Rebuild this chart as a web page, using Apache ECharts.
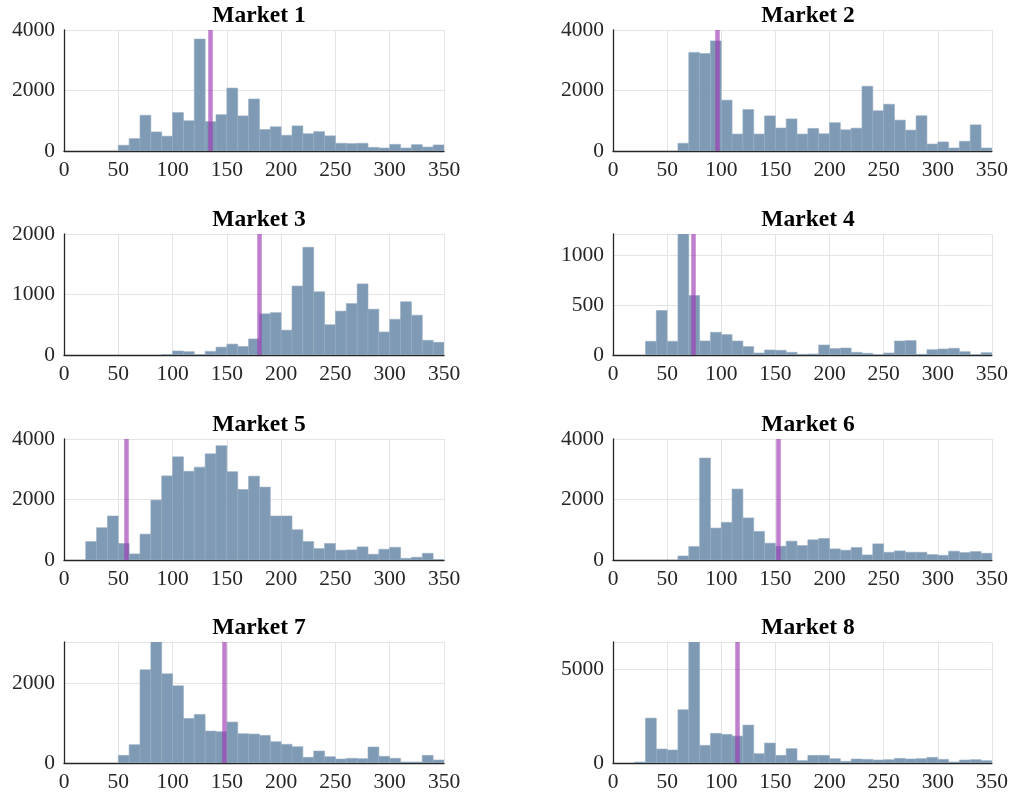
<!DOCTYPE html>
<html>
<head>
<meta charset="utf-8">
<script src="https://cdn.jsdelivr.net/npm/echarts@6/dist/echarts.min.js"></script>
<style>
html,body{margin:0;padding:0;background:#fff;}
#chart{width:1011px;height:803px;}
</style>
</head>
<body>
<div id="chart"></div>
<script>
// Histogram bin edges (width 10, 0..350)
const binStarts = [0,10,20,30,40,50,60,70,80,90,100,110,120,130,140,150,160,170,180,190,200,210,220,230,240,250,260,270,280,290,300,310,320,330,340];
const binWidth = 10;

const titles = ["Market 1","Market 2","Market 3","Market 4","Market 5","Market 6","Market 7","Market 8"];

const market1 = [0,0,0,0,0,190,410,1180,630,490,1270,1000,3700,970,1200,2080,1160,1720,710,800,520,830,570,640,500,255,245,255,120,100,220,100,210,130,200];
const market2 = [0,0,0,0,0,0,255,3260,3220,3640,1680,560,1370,560,1160,760,1060,560,745,570,935,700,755,2140,1330,1545,1020,690,1165,230,300,100,320,865,100];
const market3 = [0,0,0,0,0,0,0,0,0,10,66,55,5,60,130,180,140,265,680,700,410,1140,1780,1045,500,725,850,1175,757,380,590,880,657,243,210];
const market4 = [0,0,0,137,445,137,1250,595,140,227,204,140,84,20,50,47,27,7,10,100,64,70,27,17,2,20,140,144,7,53,60,67,33,2,23];
const market5 = [0,0,610,1067,1455,545,200,855,1980,2780,3410,2930,3070,3510,3780,2920,2330,2770,2410,1455,1455,1000,610,378,545,322,333,433,190,355,420,55,90,222,10];
const market6 = [0,0,0,0,0,0,133,445,3370,1055,1245,2345,1390,945,555,455,622,478,667,711,367,322,411,167,533,255,300,255,255,178,155,290,245,278,222];
const market7 = [0,0,0,0,0,192,458,2333,3100,2233,1933,1117,1217,800,783,1025,733,725,692,533,467,408,142,300,158,100,117,108,400,167,117,25,25,192,75];
const market8 = [0,0,53,2385,742,690,2830,6500,936,1572,1520,1430,2015,495,1060,406,760,124,406,406,230,88,212,194,159,177,247,212,230,300,194,53,159,177,124];

const allCounts = [market1,market2,market3,market4,market5,market6,market7,market8];

// Vertical reference (purple) line positions
const refLines = [135, 96, 180, 74, 57, 153, 148, 115];

// Y axis ranges and tick intervals
const yMax = [4000, 4000, 2000, 1210, 4000, 4000, 3030, 6430];
const yInterval = [2000, 2000, 1000, 500, 2000, 2000, 2000, 5000];

// X axis ticks
const xMin = 0, xMax = 350, xInterval = 50;

// Layout
const colLeft = [64, 613];
const plotW = 380;
const rowTop = [30, 234, 439, 642];
const plotH = 121;

const BAR = '#7f9ab4';
const LINE = 'rgba(160,60,180,0.66)';
const FONT = '"Liberation Serif","Times New Roman",serif';

const grids = [], xAxes = [], yAxes = [], series = [], titleList = [];
for (let i = 0; i < 8; i++) {
  const col = i % 2, row = Math.floor(i / 2);
  const left = colLeft[col], top = rowTop[row];
  grids.push({left: left, top: top, width: plotW, height: plotH, containLabel: false});
  titleList.push({
    text: titles[i], left: left + plotW / 2, top: top - 31, textAlign: 'center',
    textStyle: {fontFamily: FONT, fontWeight: 'bold', fontSize: 23.5, color: '#000'}
  });
  xAxes.push({
    type: 'value', gridIndex: i, min: xMin, max: xMax, interval: xInterval,
    axisLine: {show: true, onZero: false, lineStyle: {color: '#262626', width: 1.3}},
    axisTick: {show: false},
    axisLabel: {fontFamily: FONT, fontSize: 21.5, color: '#262626', margin: 8, formatter: v => String(v)},
    splitLine: {show: true, lineStyle: {color: '#e4e4e4', width: 1}}
  });
  const exactMax = yMax[i] % yInterval[i] === 0;
  yAxes.push({
    type: 'value', gridIndex: i, min: 0, max: yMax[i], interval: yInterval[i],
    axisLine: {show: true, lineStyle: {color: '#262626', width: 1.3}},
    axisTick: {show: false},
    axisLabel: {fontFamily: FONT, fontSize: 21.5, color: '#262626', margin: 9, showMaxLabel: exactMax, formatter: v => String(v)},
    splitLine: {show: true, lineStyle: {color: '#e4e4e4', width: 1}}
  });
  const data = binStarts.map((b, k) => [b, b + binWidth, allCounts[i][k]]);
  series.push({
    type: 'custom', xAxisIndex: i, yAxisIndex: i, clip: true,
    data: data,
    encode: {x: [0, 1], y: 2},
    renderItem: function (params, api) {
      const v = api.value(2);
      if (!v) return null;
      const p0 = api.coord([api.value(0), 0]);
      const p1 = api.coord([api.value(1), v]);
      return {
        type: 'rect',
        shape: {x: p0[0], y: p1[1], width: p1[0] - p0[0], height: p0[1] - p1[1]},
        style: {fill: BAR, stroke: '#94abc1', lineWidth: 0.6}
      };
    },
    markLine: {
      silent: true, symbol: 'none', animation: false,
      label: {show: false},
      lineStyle: {color: LINE, width: 4.5, type: 'solid'},
      data: [{xAxis: refLines[i]}]
    },
    z: 2
  });
}

const chart = echarts.init(document.getElementById('chart'), null, {renderer: 'canvas'});
chart.setOption({
  animation: false,
  backgroundColor: '#fff',
  title: titleList,
  grid: grids,
  xAxis: xAxes,
  yAxis: yAxes,
  series: series
});
</script>
</body>
</html>
